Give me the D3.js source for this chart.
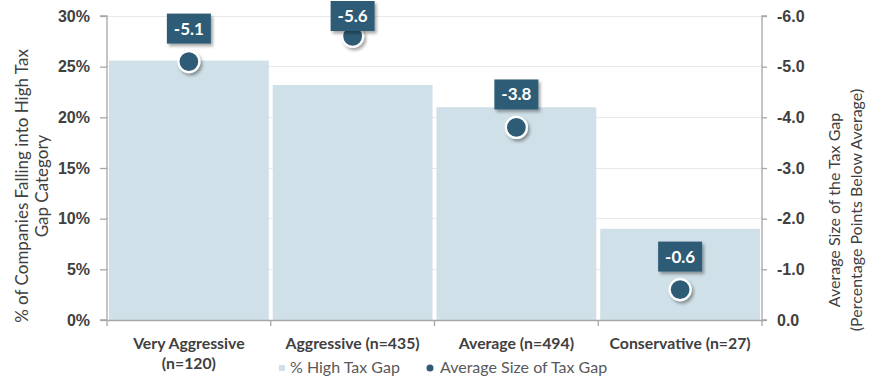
<!DOCTYPE html>
<html><head><meta charset="utf-8">
<script src="https://cdn.jsdelivr.net/npm/d3@7"></script>
<style>
html,body{margin:0;padding:0;background:#fff;}
svg{display:block;font-family:Lato,"Open Sans",sans-serif;}
</style></head>
<body><svg id="chart" width="878" height="381"></svg>
<script>
const categories = [["Very Aggressive","(n=120)"],["Aggressive (n=435)"],["Average (n=494)"],["Conservative (n=27)"]];
const highTaxGapPct = [25.6, 23.2, 21.0, 9.0];
const avgTaxGap = [-5.1, -5.6, -3.8, -0.6];
const leftTicks = [0,5,10,15,20,25,30];
const rightTicks = [0,-1,-2,-3,-4,-5,-6];
const leftTitle = ["% of Companies Falling into High Tax","Gap Category"];
const rightTitle = ["Average Size of the Tax Gap","(Percentage Points Below Average)"];
const legendLabels = ["% High Tax Gap","Average Size of Tax Gap"];

const fmt1 = d => (d<0?"-":"") + Math.abs(d).toFixed(1);
const barColor = "#d0e0e8", dotColor = "#2f5b76", axisColor = "#a6a6a6", gridColor = "#e9e9e9", textColor = "#404040";
const L = 107, R = 762, T = 16, B = 320;
const svg = d3.select("#chart");
const defs = svg.append("defs");
const f = defs.append("filter").attr("id","sh").attr("x","-50%").attr("y","-50%").attr("width","200%").attr("height","200%");
f.append("feDropShadow").attr("dx",2).attr("dy",2.5).attr("stdDeviation",1.6).attr("flood-color","#000").attr("flood-opacity",0.35);

const idx = d3.range(categories.length);
const x = d3.scaleBand().domain(idx).range([L,R]).paddingInner(0.024).paddingOuter(0.012);
const yL = d3.scaleLinear().domain([0,30]).range([B,T]);
const yR = d3.scaleLinear().domain([0,-6]).range([B,T]);

// gridlines
svg.append("g").selectAll("line").data(leftTicks.filter(d=>d>0)).join("line")
  .attr("x1",L).attr("x2",R).attr("y1",d=>yL(d)).attr("y2",d=>yL(d))
  .attr("stroke",gridColor).attr("stroke-width",1).attr("shape-rendering","crispEdges");

// bars
svg.append("g").selectAll("rect").data(idx).join("rect")
  .attr("x",i=>x(i)).attr("width",x.bandwidth())
  .attr("y",i=>yL(highTaxGapPct[i])).attr("height",i=>B-yL(highTaxGapPct[i]))
  .attr("fill",barColor);

// left axis
const gl = svg.append("g").attr("transform",`translate(${L},0)`)
  .call(d3.axisLeft(yL).tickValues(leftTicks).tickFormat(d=>d+"%").tickSize(7).tickPadding(10));
// right axis
const gr = svg.append("g").attr("transform",`translate(${R},0)`)
  .call(d3.axisRight(yR).tickValues(rightTicks).tickFormat(fmt1).tickSize(5).tickPadding(10));
// bottom axis (line only)
const gb = svg.append("g").attr("transform",`translate(0,${B})`)
  .call(d3.axisBottom(x).tickSize(0).tickFormat(""));
[gl,gr,gb].forEach(g=>{
  g.select(".domain").attr("stroke",axisColor).attr("stroke-width",1.3);
  g.selectAll(".tick line").attr("stroke",axisColor).attr("stroke-width",1.3);
  g.selectAll(".tick text").attr("fill",textColor).attr("font-size",16).attr("font-weight","bold");
});
gl.select(".domain").attr("d",`M-7,${T}H0V${B}H-7`);
gr.select(".domain").attr("d",`M5,${T}H0V${B}H5`);
// bottom boundary ticks
const bounds = d3.range(categories.length+1).map(i=>L + i*(R-L)/categories.length);
svg.append("g").selectAll("line").data(bounds).join("line")
  .attr("x1",d=>d).attr("x2",d=>d).attr("y1",B).attr("y2",B+6)
  .attr("stroke",axisColor).attr("stroke-width",1.3);
// category labels
const cl = svg.append("g").selectAll("text").data(idx).join("text")
  .attr("x",i=>x(i)+x.bandwidth()/2).attr("y",349)
  .attr("text-anchor","middle").attr("fill",textColor).attr("font-size",15.8).attr("font-weight","bold");
cl.each(function(i){
  const t=d3.select(this);
  categories[i].forEach((s,k)=>t.append("tspan").attr("x",x(i)+x.bandwidth()/2).attr("dy",k?20:0).text(s));
});

// axis titles
const lt = svg.append("text").attr("transform","translate(28,186) rotate(-90)")
  .attr("text-anchor","middle").attr("fill",textColor).attr("font-size",17);
leftTitle.forEach((s,k)=>lt.append("tspan").attr("x",0).attr("dy",k?20:0).text(s));
const rt = svg.append("text").attr("transform","translate(840,210) rotate(-90)")
  .attr("text-anchor","middle").attr("fill",textColor).attr("font-size",16);
rightTitle.forEach((s,k)=>rt.append("tspan").attr("x",0).attr("dy",k?22:0).text(s));

// dots
const cx = i=>x(i)+x.bandwidth()/2;
svg.append("g").selectAll("circle").data(idx).join("circle")
  .attr("cx",cx).attr("cy",i=>yR(avgTaxGap[i])).attr("r",10.5)
  .attr("fill",dotColor).attr("stroke","#fff").attr("stroke-width",2.2).attr("filter","url(#sh)");

// data labels
const bw=44, bh=30;
const lab = svg.append("g").selectAll("g").data(idx).join("g")
  .attr("transform",i=>{const top=Math.max(1,yR(avgTaxGap[i])-18-bh);return `translate(${cx(i)-bw/2},${top})`;});
lab.append("rect").attr("width",bw).attr("height",bh).attr("fill",dotColor).attr("filter","url(#sh)");
lab.append("text").attr("x",bw/2).attr("y",bh/2+6).attr("text-anchor","middle")
  .attr("fill","#fff").attr("font-size",17).attr("font-weight","bold").text(i=>fmt1(avgTaxGap[i]));

// legend
const lg = svg.append("g");
lg.append("rect").attr("x",279).attr("y",365).attr("width",6).attr("height",6).attr("fill",barColor);
lg.append("text").attr("x",290).attr("y",373).attr("fill","#595959").attr("font-size",16).text(legendLabels[0]);
lg.append("circle").attr("cx",430).attr("cy",368).attr("r",3.5).attr("fill",dotColor);
lg.append("text").attr("x",440).attr("y",373).attr("fill","#595959").attr("font-size",16).text(legendLabels[1]);
</script></body></html>
